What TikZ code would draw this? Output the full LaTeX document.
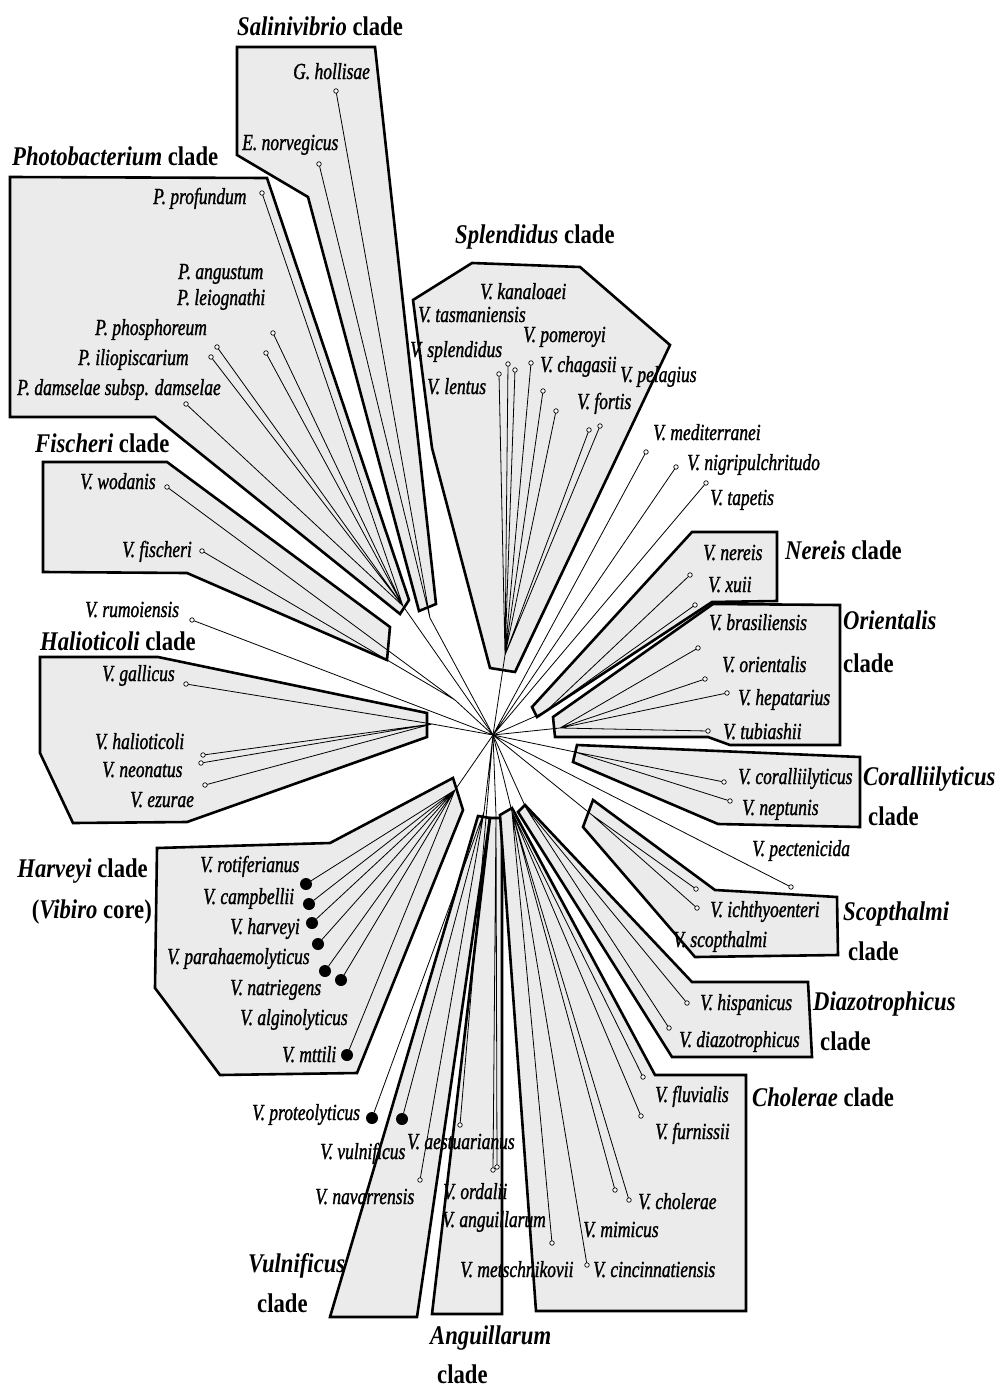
\documentclass[tikz,border=0pt]{standalone}
\usepackage{fontspec}
\setmainfont{Liberation Serif}[FakeStretch=0.84]
\newfontfamily\spfont{Liberation Serif}[FakeStretch=0.76, ItalicFeatures={FakeBold=1.2}]
\usepackage{tikz}
\definecolor{boxfill}{HTML}{EBEBEB}
\definecolor{ink}{HTML}{000000}
\tikzset{
  clade/.style={draw=ink, fill=boxfill, line width=2.6pt, line join=miter},
  br/.style={draw=ink, line width=0.8pt, line cap=round},
  tipo/.style={circle, draw=ink, fill=white, line width=0.7pt, inner sep=0pt, minimum size=4.5pt},
  tipf/.style={circle, fill=ink, inner sep=0pt, minimum size=12pt},
  sp/.style={text=ink, font=\spfont\fontsize{23}{25}\selectfont\itshape, inner sep=0pt, anchor=base west},
  cl/.style={text=ink, font=\fontsize{27}{29}\selectfont\bfseries, inner sep=0pt, anchor=base west},
}

\begin{document}
\begin{tikzpicture}[x=1pt, y=-1pt]
  \useasboundingbox (0,0) rectangle (997,1389);
  % clade boxes
  \draw[clade] (237,47) -- (375,47) -- (436,604) -- (419,611) -- (308,197) -- (237,155) -- cycle;
  \draw[clade] (10,177) -- (267,178) -- (409,600) -- (400,614) -- (155,417) -- (10,417) -- cycle;
  \draw[clade] (413,300) -- (472,263) -- (580,267) -- (670,345) -- (515,672) -- (490,668) -- (432,448) -- cycle;
  \draw[clade] (43,462) -- (167,462) -- (390,627) -- (387,660) -- (187,573) -- (43,572) -- cycle;
  \draw[clade] (40,657) -- (158,657) -- (427,713) -- (427,737) -- (187,822) -- (73,823) -- (40,753) -- cycle;
  \draw[clade] (157,848) -- (330,843) -- (453,778) -- (463,810) -- (357,1073) -- (220,1075) -- (155,988) -- cycle;
  \draw[clade] (330,1317) -- (417,1317) -- (490,818) -- (478,816) -- cycle;
  \draw[clade] (432,1314) -- (502,1314) -- (502,818) -- (490,818) -- cycle;
  \draw[clade] (500,815) -- (512,808) -- (655,1075) -- (746,1075) -- (746,1311) -- (536,1311) -- cycle;
  \draw[clade] (525,805) -- (692,982) -- (808,982) -- (812,1057) -- (672,1057) -- (518,812) -- cycle;
  \draw[clade] (593,800) -- (715,890) -- (837,897) -- (838,955) -- (695,957) -- (583,827) -- cycle;
  \draw[clade] (577,745) -- (860,757) -- (860,827) -- (718,824) -- (573,762) -- cycle;
  \draw[clade] (713,604) -- (840,605) -- (840,745) -- (730,745) -- (708,737) -- (555,737) -- (553,717) -- cycle;
  \draw[clade] (692,532) -- (777,532) -- (777,601) -- (712,602) -- (537,717) -- (532,707) -- cycle;

  % hubs
  \coordinate (C) at (493,735);
  \coordinate (hSal) at (430,618);
  \coordinate (hPho) at (403,606);
  \coordinate (hSpl) at (505,655);
  \coordinate (hFis) at (455,700);
  \coordinate (hHal) at (432,724);
  \coordinate (hHar) at (455,790);
  \coordinate (hNer) at (545,712);
  \coordinate (hOri) at (560,728);
  \coordinate (hCor) at (575,752);
  \coordinate (hSco) at (592,815);
  \coordinate (hDia) at (526,808);
  \coordinate (hCho) at (512,812);
  \coordinate (hAng) at (496,815);
  \coordinate (hVul) at (484,812);

  % tips
  \node[tipo] (thol) at (336,91) {};
  \node[tipo] (tnor) at (319,164) {};
  \node[tipo] (tpro) at (262,193) {};
  \node[tipo] (tang) at (273,333) {};
  \node[tipo] (tlei) at (266,353) {};
  \node[tipo] (tpho) at (217,347) {};
  \node[tipo] (tili) at (211,357) {};
  \node[tipo] (tdam) at (186,404) {};
  \node[tipo] (tlen) at (499,374) {};
  \node[tipo] (tspl) at (508,364) {};
  \node[tipo] (ttas) at (515,370) {};
  \node[tipo] (tkan) at (531,363) {};
  \node[tipo] (tpom) at (543,391) {};
  \node[tipo] (tcha) at (556,411) {};
  \node[tipo] (tfor) at (589,430) {};
  \node[tipo] (tpel) at (600,426) {};
  \node[tipo] (tmed) at (646,452) {};
  \node[tipo] (tnig) at (676,467) {};
  \node[tipo] (ttap) at (706,483) {};
  \node[tipo] (twod) at (167,487) {};
  \node[tipo] (tfis) at (202,551) {};
  \node[tipo] (trum) at (192,620) {};
  \node[tipo] (tgal) at (186,684) {};
  \node[tipo] (thal) at (203,755) {};
  \node[tipo] (tneo) at (201,763) {};
  \node[tipo] (tezu) at (205,785) {};
  \node[tipf] (trot) at (306,884) {};
  \node[tipf] (tcam) at (309,904) {};
  \node[tipf] (thar) at (312,923) {};
  \node[tipf] (tpar) at (318,944) {};
  \node[tipf] (tnat) at (325,971) {};
  \node[tipf] (talg) at (341,980) {};
  \node[tipf] (tmtt) at (347,1055) {};
  \node[tipf] (tpte) at (372,1118) {};
  \node[tipf] (tvul) at (402,1119) {};
  \node[tipo] (taes) at (460,1125) {};
  \node[tipo] (tnav) at (420,1180) {};
  \node[tipo] (tord) at (493,1170) {};
  \node[tipo] (tagu) at (497,1167) {};
  \node[tipo] (tmet) at (552,1243) {};
  \node[tipo] (tcin) at (587,1265) {};
  \node[tipo] (tmim) at (615,1190) {};
  \node[tipo] (tcho) at (629,1200) {};
  \node[tipo] (tflu) at (643,1077) {};
  \node[tipo] (tfur) at (641,1116) {};
  \node[tipo] (this) at (687,1003) {};
  \node[tipo] (tdia) at (669,1028) {};
  \node[tipo] (tpec) at (791,887) {};
  \node[tipo] (tich) at (696,889) {};
  \node[tipo] (tsco) at (697,908) {};
  \node[tipo] (tcor) at (724,782) {};
  \node[tipo] (tnep) at (730,801) {};
  \node[tipo] (tner) at (690,575) {};
  \node[tipo] (txui) at (695,605) {};
  \node[tipo] (tbra) at (698,648) {};
  \node[tipo] (tori) at (705,679) {};
  \node[tipo] (thep) at (727,693) {};
  \node[tipo] (ttub) at (708,731) {};

  % branches
  \draw[br] (C) -- (hSal) (hSal) -- (thol) (hSal) -- (tnor);
  \draw[br] (C) -- (hPho) (hPho) -- (tpro) (hPho) -- (tang) (hPho) -- (tlei)
    (hPho) -- (tpho) (hPho) -- (tili) (hPho) -- (tdam);
  \draw[br] (C) -- (hSpl) (hSpl) -- (tlen) (hSpl) -- (tspl) (hSpl) -- (ttas) (hSpl) -- (tkan)
    (hSpl) -- (tpom) (hSpl) -- (tcha) (hSpl) -- (tfor) (hSpl) -- (tpel);
  \draw[br] (C) -- (tmed) (C) -- (tnig) (C) -- (ttap);
  \draw[br] (C) -- (hFis) (hFis) -- (twod) (hFis) -- (tfis) (C) -- (trum);
  \draw[br] (C) -- (hHal) (hHal) -- (tgal) (hHal) -- (thal) (hHal) -- (tneo) (hHal) -- (tezu);
  \draw[br] (C) -- (hHar) (hHar) -- (trot) (hHar) -- (tcam) (hHar) -- (thar) (hHar) -- (tpar)
    (hHar) -- (tnat) (hHar) -- (talg) (hHar) -- (tmtt);
  \draw[br] (C) -- (hVul) (hVul) -- (tpte) (hVul) -- (tvul) (hVul) -- (tnav) (C) -- (taes);
  \draw[br] (C) -- (hAng) (hAng) -- (tord) (hAng) -- (tagu);
  \draw[br] (C) -- (hCho) (hCho) -- (tmet) (hCho) -- (tcin) (hCho) -- (tmim) (hCho) -- (tcho)
    (hCho) -- (tflu) (hCho) -- (tfur);
  \draw[br] (C) -- (hDia) (hDia) -- (this) (hDia) -- (tdia);
  \draw[br] (C) -- (hSco) (hSco) -- (tich) (hSco) -- (tsco) (C) -- (tpec);
  \draw[br] (C) -- (hCor) (hCor) -- (tcor) (hCor) -- (tnep);
  \draw[br] (C) -- (hNer) (hNer) -- (tner) (hNer) -- (txui);
  \draw[br] (C) -- (hOri) (hOri) -- (tbra) (hOri) -- (tori) (hOri) -- (thep) (hOri) -- (ttub);

  % species
  \node[sp] (lhol) at (293,79) {G. hollisae};
  \node[sp] (lnor) at (242,150) {E. norvegicus};
  \node[sp] (lpro) at (153,204) {P. profundum};
  \node[sp] (lang) at (178,279) {P. angustum};
  \node[sp] (llei) at (177,305) {P. leiognathi};
  \node[sp] (lpho) at (95,335) {P. phosphoreum};
  \node[sp] (lili) at (78,365) {P. iliopiscarium};
  \node[sp] (ldam) at (17,395) {P. damselae subsp. damselae};
  \node[sp] (lkan) at (480,299) {V. kanaloaei};
  \node[sp] (ltas) at (418,322) {V. tasmaniensis};
  \node[sp] (lpom) at (523,342) {V. pomeroyi};
  \node[sp] (lspl) at (410,357) {V. splendidus};
  \node[sp] (lcha) at (540,372) {V. chagasii};
  \node[sp] (lpel) at (620,382) {V. pelagius};
  \node[sp] (llen) at (427,394) {V. lentus};
  \node[sp] (lfor) at (577,409) {V. fortis};
  \node[sp] (lmed) at (653,440) {V. mediterranei};
  \node[sp] (lnig) at (687,470) {V. nigripulchritudo};
  \node[sp] (ltap) at (710,505) {V. tapetis};
  \node[sp] (lwod) at (80,489) {V. wodanis};
  \node[sp] (lfis) at (122,557) {V. fischeri};
  \node[sp] (lrum) at (85,617) {V. rumoiensis};
  \node[sp] (lgal) at (102,681) {V. gallicus};
  \node[sp] (lhal) at (95,749) {V. halioticoli};
  \node[sp] (lneo) at (102,777) {V. neonatus};
  \node[sp] (lezu) at (130,807) {V. ezurae};
  \node[sp] (lrot) at (200,872) {V. rotiferianus};
  \node[sp] (lcam) at (203,904) {V. campbellii};
  \node[sp] (lhar) at (230,934) {V. harveyi};
  \node[sp] (lpar) at (167,964) {V. parahaemolyticus};
  \node[sp] (lnat) at (230,995) {V. natriegens};
  \node[sp] (lalg) at (240,1025) {V. alginolyticus};
  \node[sp] (lmtt) at (282,1062) {V. mttili};
  \node[sp] (lpte) at (252,1120) {V. proteolyticus};
  \node[sp] (lvul) at (320,1159) {V. vulnificus};
  \node[sp] (laes) at (407,1149) {V. aestuarianus};
  \node[sp] (lnav) at (315,1204) {V. navarrensis};
  \node[sp] (lord) at (443,1199) {V. ordalii};
  \node[sp] (lagu) at (442,1227) {V. anguillarum};
  \node[sp] (lmet) at (460,1277) {V. metschnikovii};
  \node[sp] (lcin) at (593,1277) {V. cincinnatiensis};
  \node[sp] (lmim) at (583,1237) {V. mimicus};
  \node[sp] (lcho) at (638,1209) {V. cholerae};
  \node[sp] (lflu) at (655,1102) {V. fluvialis};
  \node[sp] (lfur) at (655,1139) {V. furnissii};
  \node[sp] (lhis) at (700,1010) {V. hispanicus};
  \node[sp] (ldia) at (679,1047) {V. diazotrophicus};
  \node[sp] (lpec) at (752,856) {V. pectenicida};
  \node[sp] (lich) at (710,917) {V. ichthyoenteri};
  \node[sp] (lsco) at (673,947) {V. scopthalmi};
  \node[sp] (lcor) at (738,784) {V. coralliilyticus};
  \node[sp] (lnep) at (742,815) {V. neptunis};
  \node[sp] (lbra) at (709,630) {V. brasiliensis};
  \node[sp] (lori) at (722,672) {V. orientalis};
  \node[sp] (lhep) at (738,705) {V. hepatarius};
  \node[sp] (ltub) at (723,739) {V. tubiashii};
  \node[sp] (lner) at (703,560) {V. nereis};
  \node[sp] (lxui) at (708,592) {V. xuii};

  % clades
  \node[cl] (cSal) at (237,36) {\textit{Salinivibrio} clade};
  \node[cl] (cPho) at (12,165) {\textit{Photobacterium} clade};
  \node[cl] (cSpl) at (455,243) {\textit{Splendidus} clade};
  \node[cl] (cFis) at (35,452) {\textit{Fischeri} clade};
  \node[cl] (cHal) at (40,650) {\textit{Halioticoli} clade};
  \node[cl, anchor=base east] (cHar) at (148,877) {\textit{Harveyi} clade};
  \node[cl, anchor=base east] (cHar2) at (152,918) {(\textit{Vibiro} core)};
  \node[cl] (cNer) at (785,559) {\textit{Nereis} clade};
  \node[cl] (cOri) at (843,629) {\textit{Orientalis}};
  \node[cl] (cOri2) at (843,672) {clade};
  \node[cl] (cCor) at (863,785) {\textit{Coralliilyticus}};
  \node[cl] (cCor2) at (868,825) {clade};
  \node[cl] (cSco) at (843,920) {\textit{Scopthalmi}};
  \node[cl] (cSco2) at (848,960) {clade};
  \node[cl] (cDia) at (813,1010) {\textit{Diazotrophicus}};
  \node[cl] (cDia2) at (820,1050) {clade};
  \node[cl] (cCho) at (752,1106) {\textit{Cholerae} clade};
  \node[cl] (cVul) at (248,1272) {\textit{Vulnificus}};
  \node[cl] (cVul2) at (257,1312) {clade};
  \node[cl] (cAng) at (430,1344) {\textit{Anguillarum}};
  \node[cl] (cAng2) at (437,1383) {clade};
\end{tikzpicture}
\end{document}
